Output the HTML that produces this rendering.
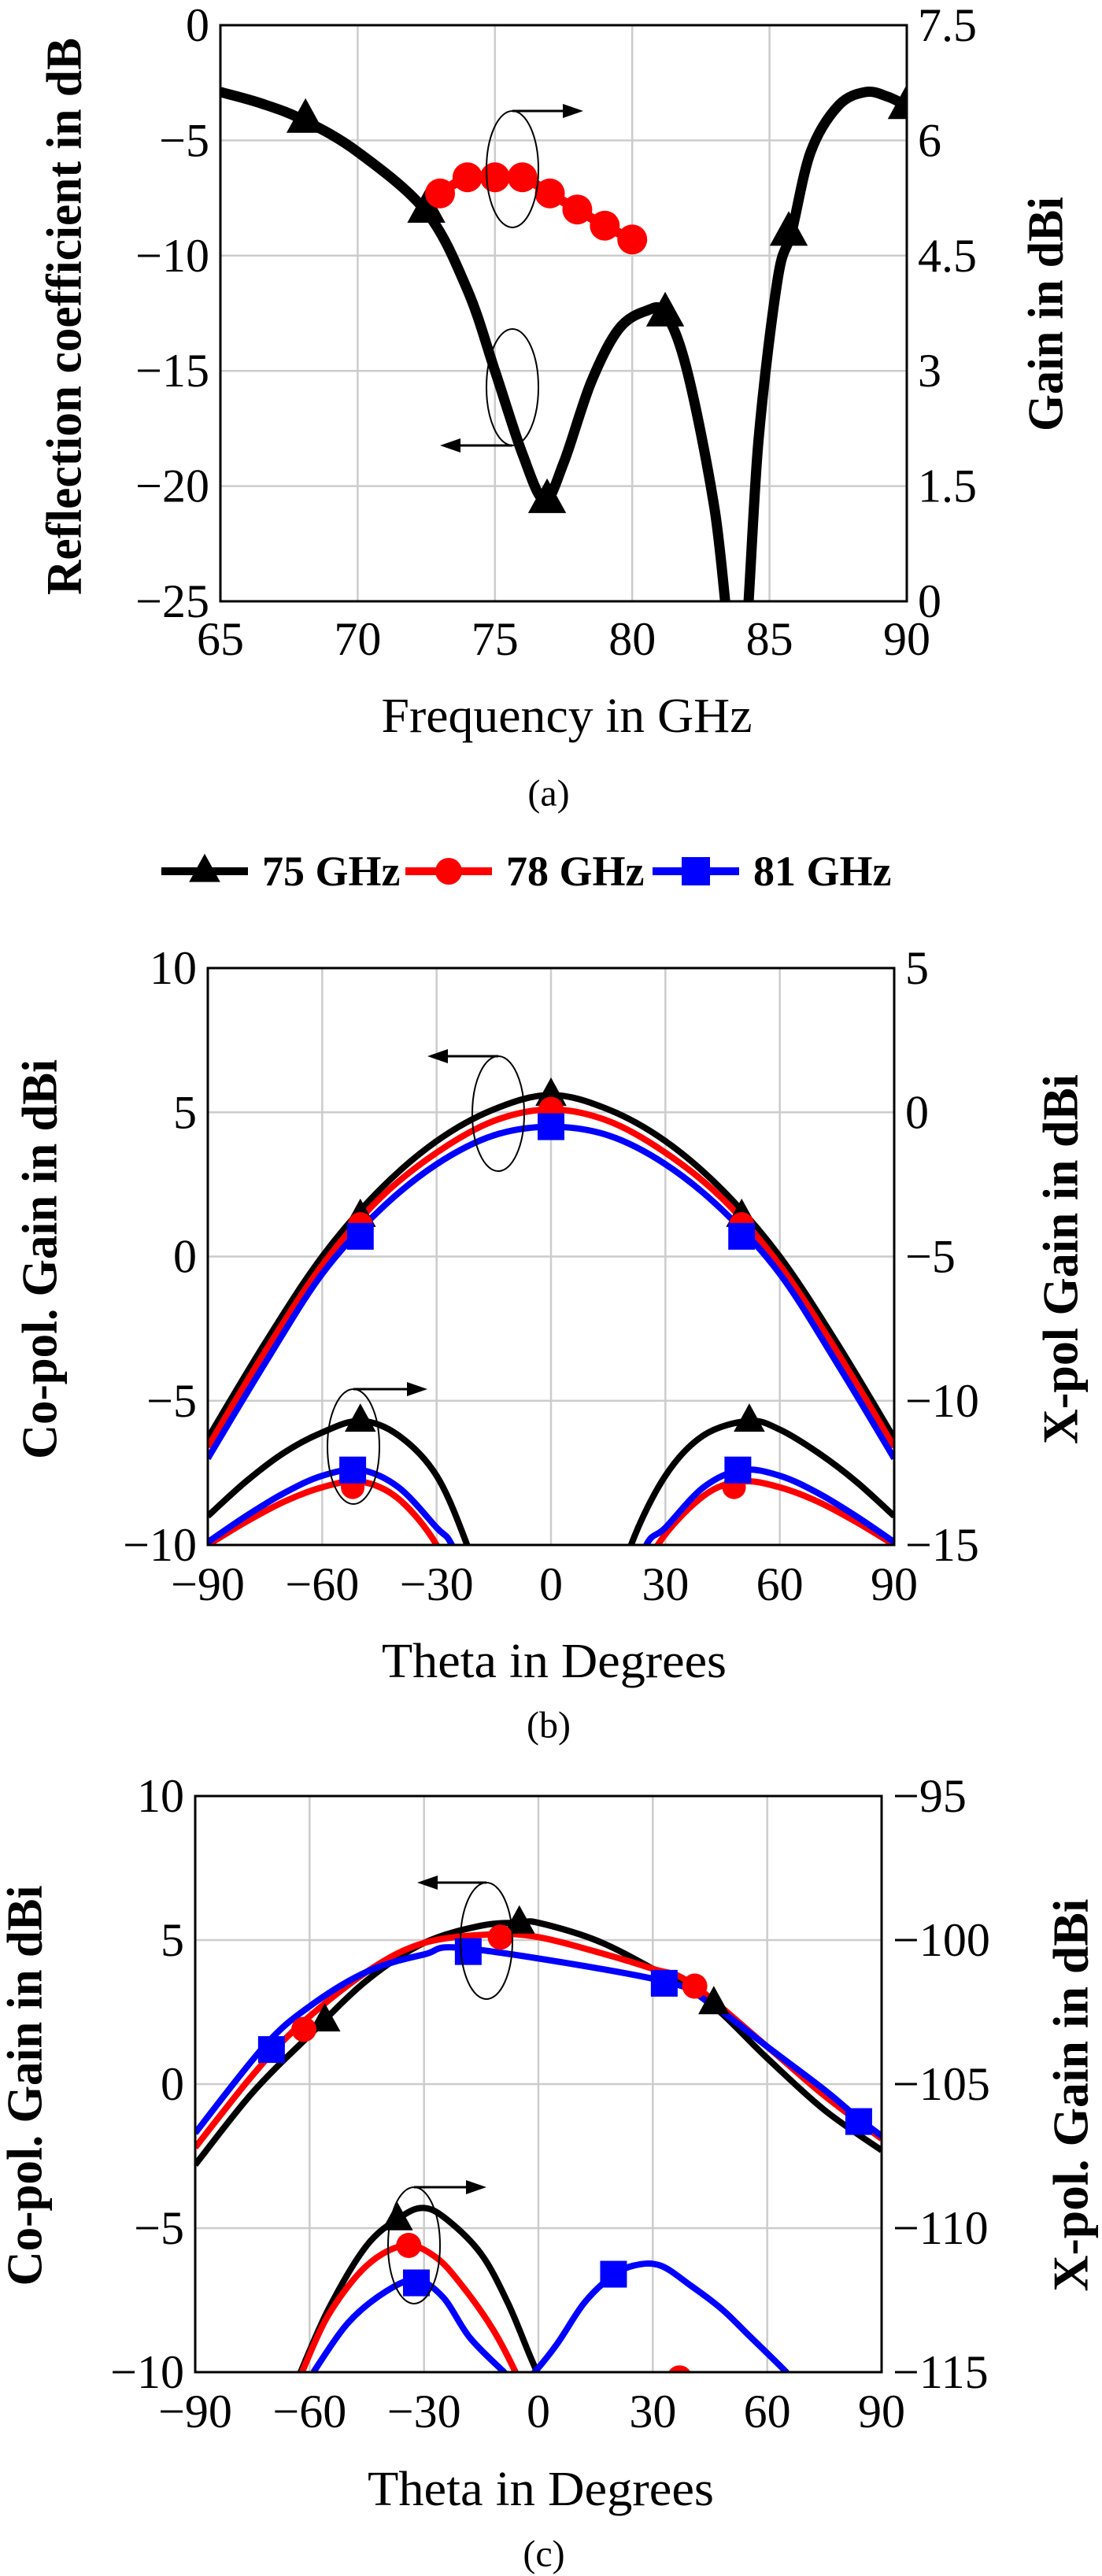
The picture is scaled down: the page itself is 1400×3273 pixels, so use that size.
<!DOCTYPE html>
<html><head><meta charset="utf-8"><style>
html,body{margin:0;padding:0;background:#fff;font-family:"Liberation Serif",serif;}
svg{display:block;font-family:"Liberation Serif",serif;}
svg text{font-family:"Liberation Serif",serif;fill:#000;}
</style></head><body>
<svg id="fig" xmlns="http://www.w3.org/2000/svg" width="1400" height="3273" viewBox="0 0 1400 3273" font-family="Liberation Serif, serif"></svg>
<script>
// ===== Chart (a) data =====
const aS11Freq = [65, 66.5, 68, 70, 72.5, 74, 75, 76, 76.8, 77.5, 78.5, 79.5, 80.5, 81.2, 82, 83, 83.6, 84.1, 84.6, 85.3, 85.8, 86.5, 87.5, 88.5, 89.3, 90];
const aS11dB = [-2.9, -3.4, -4.1, -5.5, -8.1, -11.5, -15, -18.6, -20.6, -19, -15.5, -13.2, -12.4, -12.5, -15, -21, -27, -27, -18, -11, -9, -5.5, -3.5, -2.9, -3.1, -3.5];
const aS11MarkFreq = [68.1, 72.5, 76.9, 81.2, 85.7, 90];
const aS11MarkdB = [-4.1, -8.0, -20.6, -12.5, -9.0, -3.5];
const aGainFreq = [73, 74, 75, 76, 77, 78, 79, 80];
const aGainDBi = [5.31, 5.52, 5.52, 5.52, 5.31, 5.10, 4.89, 4.71];
const aXTicks = [65, 70, 75, 80, 85, 90];
const aYTicks = [0, -5, -10, -15, -20, -25];
const aY2Ticks = [7.5, 6, 4.5, 3, 1.5, 0];
const aY2Labels = ["7.5", "6", "4.5", "3", "1.5", "0"];

// ===== Chart (b) data =====
const bCoTheta = [-90, -75, -60, -45, -30, -15, 0, 15, 30, 45, 60, 75, 90];
const bCo75 = [-6.3, -3.0, 0.0, 2.3, 4.0, 5.1, 5.6, 5.1, 4.0, 2.3, 0.0, -3.0, -6.3];
const bCo78 = [-6.6, -3.3, -0.3, 2.0, 3.6, 4.7, 5.1, 4.7, 3.6, 2.0, -0.3, -3.3, -6.6];
const bCo81 = [-7.0, -3.7, -0.6, 1.6, 3.2, 4.2, 4.5, 4.2, 3.2, 1.6, -0.6, -3.7, -7.0];
const bCoMarkTheta = [-50, 0, 50];
const bCoMark75 = [1.4, 5.6, 1.4];
const bCoMark78 = [1.1, 5.1, 1.1];
const bCoMark81 = [0.7, 4.5, 0.7];
const bX75ThetaL = [-90, -80, -70, -60, -50, -40, -30, -22, -16];
const bX75L = [-14, -12.8, -11.8, -11.1, -10.7, -11.2, -12.6, -15, -17.5];
const bX75ThetaR = [16, 21, 30, 40, 52, 60, 70, 80, 90];
const bX75R = [-17.5, -15, -12.6, -11.2, -10.7, -11.0, -11.8, -12.8, -14];
const bX78ThetaL = [-90, -80, -70, -60, -50, -40, -30, -24];
const bX78L = [-15, -14.2, -13.5, -13.0, -12.8, -13.4, -15, -17];
const bX78ThetaR = [22, 28, 40, 50, 60, 70, 80, 90];
const bX78R = [-17, -15, -13.3, -12.8, -13.0, -13.5, -14.2, -15];
const bX81ThetaL = [-90, -80, -70, -60, -50, -40, -30, -26, -20];
const bX81L = [-14.9, -14.0, -13.2, -12.6, -12.4, -13.0, -14.4, -15, -17];
const bX81ThetaR = [20, 25, 30, 40, 50, 60, 70, 80, 90];
const bX81R = [-17, -15, -14.4, -13.0, -12.4, -12.6, -13.2, -14.0, -14.9];
const bXMark75Theta = [-50, 52];
const bXMark75 = [-10.7, -10.7];
const bXMark78Theta = [-52, 48];
const bXMark78 = [-13.0, -13.0];
const bXMark81Theta = [-52, 49];
const bXMark81 = [-12.4, -12.4];
const bXTicks = [-90, -60, -30, 0, 30, 60, 90];
const bYTicks = [10, 5, 0, -5, -10];
const bY2Ticks = [5, 0, -5, -10, -15];

// ===== Chart (c) data =====
const cCo75Theta = [-90, -75, -60, -45, -30, -15, -5, 0, 15, 30, 45, 60, 75, 90];
const cCo75 = [-2.8, -0.3, 1.7, 3.6, 4.9, 5.5, 5.6, 5.6, 5.0, 4.0, 2.8, 0.9, -0.9, -2.3];
const cCo78Theta = [-90, -75, -63, -45, -30, -12, 0, 15, 30, 40, 60, 75, 90];
const cCo78 = [-2.2, 0.3, 2.0, 3.9, 4.9, 5.2, 5.1, 4.6, 4.0, 3.5, 1.3, -0.4, -1.9];
const cCo81Theta = [-90, -72, -60, -45, -30, -18, 32, 45, 60, 75, 84, 90];
const cCo81 = [-1.7, 1.3, 2.7, 3.9, 4.5, 4.7, 3.6, 2.8, 1.3, -0.2, -1.2, -1.8];
const cCoMark75Theta = [-56, -5, 46];
const cCoMark75 = [2.2, 5.6, 2.8];
const cCoMark78Theta = [-61.5, -10, 41];
const cCoMark78 = [1.9, 5.1, 3.4];
const cCoMark81Theta = [-70, -18.4, 33, 84];
const cCoMark81 = [1.2, 4.6, 3.5, -1.3];
const cX75Theta = [-63, -55, -45, -36, -30, -24, -15, -8, -2, 3];
const cX75 = [-115.2, -112.8, -110.6, -109.6, -109.3, -109.7, -110.9, -112.6, -114.5, -116];
const cX78Theta = [-62, -55, -45, -35, -27, -20, -12, -6, -3];
const cX78 = [-115, -113, -111.3, -110.6, -111, -112, -113.5, -115, -116];
const cX81Theta = [-59, -50, -40, -32, -25, -18, -9, -5, -1, 5, 12, 19, 25, 32, 40, 48, 55, 65, 68];
const cX81 = [-115, -113.3, -112.2, -111.8, -112.4, -113.8, -115, -115.5, -115, -114, -112.6, -111.7, -111.3, -111.3, -112, -112.8, -113.7, -115, -115.5];
const cXMark75Theta = [-37];
const cXMark75 = [-109.7];
const cXMark78Theta = [-34, 37];
const cXMark78 = [-110.6, -115.2];
const cXMark81Theta = [-32, 19.7];
const cXMark81 = [-111.9, -111.6];
const cXTicks = [-90, -60, -30, 0, 30, 60, 90];
const cYTicks = [10, 5, 0, -5, -10];
const cY2Ticks = [-95, -100, -105, -110, -115];

const NS = "http://www.w3.org/2000/svg";
const svg = document.getElementById("fig");
function el(tag, attrs, parent) {
  const e = document.createElementNS(NS, tag);
  for (const k in attrs) e.setAttribute(k, attrs[k]);
  (parent || svg).appendChild(e);
  return e;
}
function fmt(v) { return v < 0 ? "\u2212" + Math.abs(v) : String(v); }
function scale(d0, d1, r0, r1) { return v => r0 + (v - d0) / (d1 - d0) * (r1 - r0); }
function smoothPath(pts) {
  let d = "M" + pts[0][0] + "," + pts[0][1];
  for (let i = 0; i < pts.length - 1; i++) {
    const p0 = pts[Math.max(0, i - 1)], p1 = pts[i], p2 = pts[i + 1], p3 = pts[Math.min(pts.length - 1, i + 2)];
    const c1x = p1[0] + (p2[0] - p0[0]) / 6, c1y = p1[1] + (p2[1] - p0[1]) / 6;
    const c2x = p2[0] - (p3[0] - p1[0]) / 6, c2y = p2[1] - (p3[1] - p1[1]) / 6;
    d += " C" + c1x + "," + c1y + " " + c2x + "," + c2y + " " + p2[0] + "," + p2[1];
  }
  return d;
}
function drawLine(g, xs, ys, sx, sy, color, w, name) {
  const pts = xs.map((x, i) => [sx(x), sy(ys[i])]);
  const p = el("path", {d: smoothPath(pts), fill: "none", stroke: color, "stroke-width": w, "stroke-linejoin": "round"}, g);
  
  
}
function marker(g, kind, cx, cy, color, s, name) {
  let m;
  if (kind === "tri") m = el("polygon", {points: (cx) + "," + (cy - s * 0.62) + " " + (cx - s * 0.55) + "," + (cy + s * 0.38) + " " + (cx + s * 0.55) + "," + (cy + s * 0.38), fill: color}, g);
  else if (kind === "circ") m = el("circle", {cx: cx, cy: cy, r: s / 2, fill: color}, g);
  else m = el("rect", {x: cx - s / 2, y: cy - s / 2, width: s, height: s, fill: color}, g);
  
  
}
function drawMarks(g, xs, ys, sx, sy, kind, color, s, name) {
  xs.forEach((x, i) => marker(g, kind, sx(x), sy(ys[i]), color, s, name));
}
function txt(x, y, s, size, anchor, opts, name) {
  const t = el("text", Object.assign({x: x, y: y, "font-size": size, "font-family": "Liberation Serif, serif", "text-anchor": anchor, "dominant-baseline": "central"}, opts || {}));
  t.textContent = s;
  
  
  return t;
}
function frame(id, L, T, R, B, sx, sy, sy2, xt, yt, y2t, y2lab, xlabOff) {
  const g = el("g", {});
  
  
  xt.forEach(v => el("line", {x1: sx(v), x2: sx(v), y1: T, y2: B, stroke: "#cccccc", "stroke-width": 2.5}, g));
  yt.forEach(v => el("line", {x1: L, x2: R, y1: sy(v), y2: sy(v), stroke: "#cccccc", "stroke-width": 2.5}, g));
  xt.forEach(v => txt(sx(v), B + xlabOff, fmt(v), 60, "middle", {}, id + "-x-tick-label"));
  yt.forEach(v => txt(L - 14, sy(v), fmt(v), 60, "end", {}, id + "-y-tick-label"));
  y2t.forEach((v, i) => txt(R + 14, sy2(v), y2lab ? y2lab[i] : fmt(v), 60, "start", {}, id + "-y2-tick-label"));
  const cp = el("clipPath", {id: id + "-clip"});
  el("rect", {x: L, y: T, width: R - L, height: B - T}, cp);
  const pg = el("g", {"clip-path": "url(#" + id + "-clip)"});
  
  
  return pg;
}
function border(id, L, T, R, B) {
  const r = el("rect", {x: L, y: T, width: R - L, height: B - T, fill: "none", stroke: "#000", "stroke-width": 3});
  
  
}
function annot(cx, cy, rx, ry, tipX, fromTop, name) {
  const g = el("g", {});
  
  
  el("ellipse", {cx: cx, cy: cy, rx: rx, ry: ry, fill: "none", stroke: "#000", "stroke-width": 2}, g);
  const y = fromTop ? cy - ry : cy + ry;
  const dir = tipX > cx ? 1 : -1;
  el("line", {x1: cx, y1: y, x2: tipX - dir * 20, y2: y, stroke: "#000", "stroke-width": 3}, g);
  el("polygon", {points: tipX + "," + y + " " + (tipX - dir * 26) + "," + (y - 9) + " " + (tipX - dir * 26) + "," + (y + 9), fill: "#000"}, g);
}
function rotTitle(x, y, s, len, name) {
  txt(0, 0, s, 64, "middle", {transform: "translate(" + x + "," + y + ") rotate(-90)", "font-weight": "bold", textLength: len, lengthAdjust: "spacingAndGlyphs"}, name);
}

// ===== Chart (a) =====
(function () {
  const L = 280, T = 32, R = 1152, B = 764;
  const sx = scale(65, 90, L, R), sy = scale(0, -25, T, B), sy2 = scale(7.5, 0, T, B);
  const g = frame("chart-a", L, T, R, B, sx, sy, sy2, aXTicks, aYTicks, aY2Ticks, aY2Labels, 48);
  drawLine(g, aS11Freq, aS11dB, sx, sy, "#000", 13, "s11-line");
  drawMarks(g, aS11MarkFreq, aS11MarkdB, sx, sy, "tri", "#000", 44, "s11-marker");
  drawLine(g, aGainFreq, aGainDBi, sx, sy2, "#ff0000", 12, "gain-line");
  drawMarks(g, aGainFreq, aGainDBi, sx, sy2, "circ", "#ff0000", 38, "gain-marker");
  border("chart-a", L, T, R, B);
  annot(651, 215, 33, 74, 741, true, "gain-annotation");
  annot(651, 492, 33, 74, 559, false, "s11-annotation");
  txt(720, 910, "Frequency in GHz", 62, "middle", {textLength: 471, lengthAdjust: "spacingAndGlyphs"}, "x-axis-title-a");
  rotTitle(81, 402, "Reflection coefficient in dB", 708, "y-axis-title-a");
  rotTitle(1328, 399, "Gain in dBi", 298, "y2-axis-title-a");
  txt(697, 1008, "(a)", 48, "middle", {}, "caption-a");
})();

// ===== Legend =====
(function () {
  const items = [["75 GHz", "#000", "tri", 515 - 310, 643 - 310], ["78 GHz", "#ff0000", "circ", 515, 643], ["81 GHz", "#0000ff", "sq", 515 + 314, 643 + 314]];
  items.forEach(it => {
    const g = el("g", {});
    
    
    el("line", {x1: it[3], x2: it[3] + 110, y1: 1107, y2: 1107, stroke: it[1], "stroke-width": 10}, g);
    marker(g, it[2], it[3] + 55, 1107, it[1], it[2] === "circ" ? 34 : 36, "legend-marker");
    const t = txt(it[4], 1107, it[0], 54, "start", {"font-weight": "bold"}, "legend-label");
    g.appendChild(t);
  });
})();

// ===== Chart (b) =====
(function () {
  const L = 264, T = 1230, R = 1136, B = 1963;
  const sx = scale(-90, 90, L, R), sy = scale(10, -10, T, B), sy2 = scale(5, -15, T, B);
  const g = frame("chart-b", L, T, R, B, sx, sy, sy2, bXTicks, bYTicks, bY2Ticks, null, 50);
  drawLine(g, bX75ThetaL, bX75L, sx, sy2, "#000", 8, "xpol-75-line");
  drawLine(g, bX75ThetaR, bX75R, sx, sy2, "#000", 8, "xpol-75-line");
  drawLine(g, bX78ThetaL, bX78L, sx, sy2, "#ff0000", 8, "xpol-78-line");
  drawLine(g, bX78ThetaR, bX78R, sx, sy2, "#ff0000", 8, "xpol-78-line");
  drawLine(g, bX81ThetaL, bX81L, sx, sy2, "#0000ff", 8, "xpol-81-line");
  drawLine(g, bX81ThetaR, bX81R, sx, sy2, "#0000ff", 8, "xpol-81-line");
  drawMarks(g, bXMark78Theta, bXMark78, sx, sy2, "circ", "#ff0000", 30, "xpol-78-marker");
  drawMarks(g, bXMark75Theta, bXMark75, sx, sy2, "tri", "#000", 36, "xpol-75-marker");
  drawMarks(g, bXMark81Theta, bXMark81, sx, sy2, "sq", "#0000ff", 34, "xpol-81-marker");
  drawLine(g, bCoTheta, bCo75, sx, sy, "#000", 8, "copol-75-line");
  drawLine(g, bCoTheta, bCo78, sx, sy, "#ff0000", 8, "copol-78-line");
  drawLine(g, bCoTheta, bCo81, sx, sy, "#0000ff", 8, "copol-81-line");
  drawMarks(g, bCoMarkTheta, bCoMark75, sx, sy, "tri", "#000", 36, "copol-75-marker");
  drawMarks(g, bCoMarkTheta, bCoMark78, sx, sy, "circ", "#ff0000", 32, "copol-78-marker");
  drawMarks(g, bCoMarkTheta, bCoMark81, sx, sy, "sq", "#0000ff", 34, "copol-81-marker");
  border("chart-b", L, T, R, B);
  annot(633, 1415, 33, 73, 543, true, "copol-annotation-b");
  annot(449, 1838, 33, 73, 543, true, "xpol-annotation-b");
  txt(704, 2111, "Theta in Degrees", 62, "middle", {textLength: 438, lengthAdjust: "spacingAndGlyphs"}, "x-axis-title-b");
  rotTitle(50, 1600, "Co-pol. Gain in dBi", 508, "y-axis-title-b");
  rotTitle(1347, 1600, "X-pol Gain in dBi", 470, "y2-axis-title-b");
  txt(697, 2192, "(b)", 48, "middle", {}, "caption-b");
})();

// ===== Chart (c) =====
(function () {
  const L = 248, T = 2282, R = 1120, B = 3014;
  const sx = scale(-90, 90, L, R), sy = scale(10, -10, T, B), sy2 = scale(-95, -115, T, B);
  const g = frame("chart-c", L, T, R, B, sx, sy, sy2, cXTicks, cYTicks, cY2Ticks, null, 50);
  drawLine(g, cX75Theta, cX75, sx, sy2, "#000", 8, "xpol-75-line");
  drawLine(g, cX78Theta, cX78, sx, sy2, "#ff0000", 8, "xpol-78-line");
  drawLine(g, cX81Theta, cX81, sx, sy2, "#0000ff", 8, "xpol-81-line");
  drawMarks(g, cXMark75Theta, cXMark75, sx, sy2, "tri", "#000", 36, "xpol-75-marker");
  drawMarks(g, cXMark78Theta, cXMark78, sx, sy2, "circ", "#ff0000", 32, "xpol-78-marker");
  drawMarks(g, cXMark81Theta, cXMark81, sx, sy2, "sq", "#0000ff", 34, "xpol-81-marker");
  drawLine(g, cCo75Theta, cCo75, sx, sy, "#000", 8, "copol-75-line");
  drawLine(g, cCo78Theta, cCo78, sx, sy, "#ff0000", 8, "copol-78-line");
  drawLine(g, cCo81Theta, cCo81, sx, sy, "#0000ff", 8, "copol-81-line");
  drawMarks(g, cCoMark75Theta, cCoMark75, sx, sy, "tri", "#000", 36, "copol-75-marker");
  drawMarks(g, cCoMark78Theta, cCoMark78, sx, sy, "circ", "#ff0000", 32, "copol-78-marker");
  drawMarks(g, cCoMark81Theta, cCoMark81, sx, sy, "sq", "#0000ff", 34, "copol-81-marker");
  border("chart-c", L, T, R, B);
  annot(618, 2466, 33, 74, 530, true, "copol-annotation-c");
  annot(526, 2853, 33, 74, 618, true, "xpol-annotation-c");
  txt(687, 3163, "Theta in Degrees", 62, "middle", {textLength: 440, lengthAdjust: "spacingAndGlyphs"}, "x-axis-title-c");
  rotTitle(31, 2650, "Co-pol. Gain in dBi", 509, "y-axis-title-c");
  rotTitle(1360, 2662, "X-pol. Gain in dBi", 499, "y2-axis-title-c");
  txt(691, 3245, "(c)", 48, "middle", {}, "caption-c");
})();
</script>
</body></html>
